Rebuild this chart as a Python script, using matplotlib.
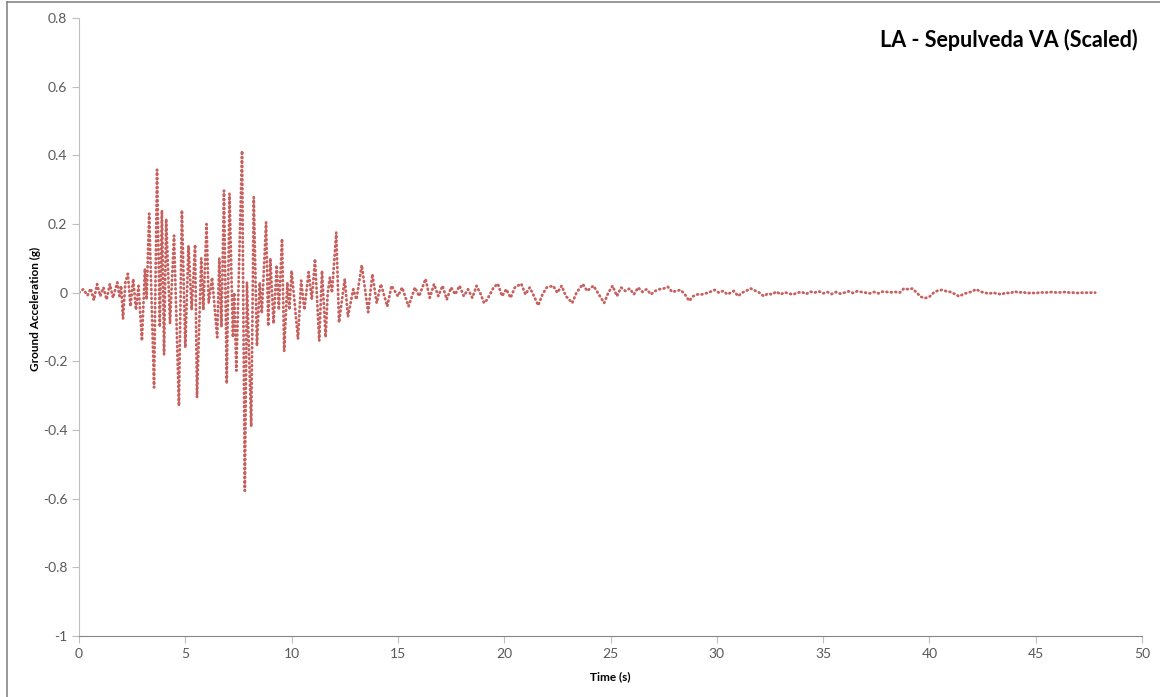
import matplotlib.pyplot as plt
from matplotlib.lines import Line2D

# turning points (time s, acceleration g)
t_strong = [0, 0.2, 0.4, 0.55, 0.7, 0.85, 1.0, 1.15, 1.3, 1.45, 1.6, 1.8, 1.9, 1.98,
            2.07, 2.18, 2.3, 2.42, 2.55, 2.68, 2.8, 2.96, 3.1, 3.18,
            3.3, 3.53, 3.67, 3.8, 3.9, 4.0, 4.1, 4.28, 4.47, 4.7, 4.84, 5.0, 5.15,
            5.3, 5.46, 5.55, 5.75, 5.85, 6.0, 6.1, 6.26, 6.5, 6.6, 6.7, 6.82, 6.95,
            7.08, 7.24, 7.3, 7.4, 7.67, 7.8, 7.9, 8.1, 8.22, 8.37, 8.5, 8.6, 8.8,
            8.9, 9.0, 9.15, 9.3, 9.4, 9.55, 9.65, 9.8, 9.9, 10.0, 10.3, 10.45, 10.6,
            10.8, 10.95, 11.1, 11.3, 11.43, 11.6, 11.7, 11.8, 11.9, 12.1, 12.23,
            12.5, 12.65, 12.9, 13.05, 13.3, 13.6, 13.8, 14.0, 14.2, 14.5, 14.7,
            15.0, 15.2, 15.5, 15.8]
a_strong = [0, 0.01, -0.008, 0.012, -0.022, 0.025, -0.01, 0.015, -0.02, 0.025, -0.015, 0.03, -0.01, 0.02,
            -0.076, 0.03, 0.055, -0.04, 0.04, -0.05, 0.02, -0.14, 0.07, -0.02,
            0.23, -0.276, 0.358, -0.1, 0.24, -0.18, 0.215, -0.09, 0.166, -0.33, 0.24, -0.16, 0.137,
            -0.05, 0.14, -0.305, 0.1, -0.05, 0.2, -0.03, 0.044, -0.13, 0.1, -0.1, 0.297, -0.265,
            0.288, -0.13, 0.0, -0.227, 0.413, -0.577, 0.03, -0.39, 0.278, -0.155, 0.03, -0.06, 0.205,
            -0.097, 0.1, -0.09, 0.08, -0.05, 0.157, -0.17, 0.03, -0.05, 0.064, -0.135, 0.035, -0.05,
            0.06, -0.02, 0.098, -0.14, 0.064, -0.13, 0.0, 0.044, 0.0, 0.175, -0.087,
            0.04, -0.07, 0.01, -0.02, 0.08, -0.057, 0.054, -0.03, 0.025, -0.04, 0.02,
            -0.01, 0.015, -0.04, 0.015]

t_tail = [16.0, 16.3, 16.5, 16.7, 16.9, 17.1, 17.3, 17.5, 17.7, 17.9, 18.1, 18.3, 18.5, 18.7,
          18.9, 19.05, 19.2, 19.5, 19.7, 19.9, 20.1, 20.3, 20.5, 20.8, 21.0, 21.2, 21.4, 21.6,
          21.8, 22.0, 22.3, 22.5, 22.7, 22.9, 23.2, 23.4, 23.7, 23.9, 24.2, 24.4, 24.7, 24.9,
          25.1, 25.3, 25.5, 25.7, 25.9, 26.1, 26.3, 26.5, 26.7, 26.9, 27.1, 27.3, 27.5, 27.7,
          27.9, 28.1, 28.3, 28.5, 28.7, 28.9, 29.1, 29.3, 29.6, 29.9, 30.1, 30.3, 30.5, 30.8,
          31.0, 31.2, 31.4, 31.6, 31.8, 32.0, 32.2, 32.4, 32.6, 32.8, 33.0, 33.2, 33.4, 33.6,
          33.8, 34.0, 34.2, 34.4, 34.6, 34.8, 35.0, 35.2, 35.4, 35.6, 35.8, 36.0, 36.2, 36.4,
          36.6, 36.8, 37.0, 37.2, 37.4, 37.6, 37.8, 38.0, 38.2, 38.4, 38.6, 38.8, 39.0, 39.2,
          39.4, 39.6, 39.8, 40.0, 40.2, 40.4, 40.6, 40.8, 41.0, 41.2, 41.4, 41.6, 41.8, 42.0,
          42.2, 42.4, 42.6, 42.8, 43.0, 43.2, 43.4, 43.6, 43.8, 44.0, 44.2, 44.4, 44.6, 44.8,
          45.0, 45.2, 45.4, 45.6, 45.8, 46.0, 46.2, 46.4, 46.6, 46.8, 47.0, 47.2, 47.4, 47.8]
a_tail = [-0.01, 0.04, -0.015, 0.025, -0.01, 0.02, -0.02, 0.015, -0.005, 0.02, -0.01, 0.01, -0.015, 0.02,
          -0.005, -0.03, -0.02, 0.015, 0.026, -0.01, 0.01, -0.015, 0.015, 0.026, -0.005, 0.015, -0.01, -0.037,
          -0.005, 0.015, 0.02, 0.0, 0.02, -0.01, -0.03, 0.0, 0.025, 0.005, 0.02, 0.0, -0.03, 0.0,
          0.02, -0.01, 0.015, 0.005, 0.012, -0.005, 0.015, 0.002, 0.01, -0.005, 0.005, 0.01, 0.012, 0.017,
          0.002, 0.005, 0.008, -0.005, -0.024, -0.01, -0.005, -0.005, 0.0, 0.008, 0.0, 0.005, -0.005, 0.005,
          -0.01, 0.0, 0.006, 0.012, 0.006, 0.0, -0.01, -0.003, -0.005, 0.003, -0.005, 0.001, -0.003, -0.005,
          0.0, 0.002, -0.004, 0.003, 0.0, 0.004, -0.002, 0.002, -0.004, 0.002, -0.003, 0.0, 0.004, -0.001,
          0.004, 0.002, 0.0, -0.002, 0.002, -0.002, 0.003, 0.002, 0.001, 0.002, 0.0, 0.012, 0.01, 0.012,
          0.0, -0.012, -0.016, -0.012, 0.0, 0.006, 0.008, 0.004, 0.002, -0.004, -0.011, -0.004, 0.0, 0.003,
          0.01, 0.003, 0.0, -0.003, 0.0, -0.003, -0.005, 0.0, -0.002, 0.004, 0.0, 0.002, -0.002, 0.0,
          -0.002, 0.001, 0.0, 0.001, 0.002, 0.0, 0.001, 0.002, 0.0, 0.0, -0.001, 0.0, 0.0, 0.0]

x_ticks = list(range(0, 51, 5))
y_ticks = [-1, -0.8, -0.6, -0.4, -0.2, 0, 0.2, 0.4, 0.6, 0.8]
y_labels = ['-1', '-0.8', '-0.6', '-0.4', '-0.2', '0', '0.2', '0.4', '0.6', '0.8']

plt.rcParams['font.family'] = ['Lato', 'DejaVu Sans']

fig = plt.figure(figsize=(11.6, 6.97), dpi=100)
ax = fig.add_axes([79/1160, 1 - 636/697, (1142 - 79)/1160, (636 - 18)/697])

ax.plot(t_strong + t_tail, a_strong + a_tail, color='#C0504D', linestyle=(0, (0.3, 1.3)),
        linewidth=2.0, dash_capstyle='round', alpha=0.9)

ax.set_xlim(0, 50)
ax.set_ylim(-1, 0.8)
ax.set_xticks(x_ticks)
ax.set_yticks(y_ticks)
ax.set_yticklabels(y_labels)
ax.tick_params(colors='#BFBFBF', labelcolor='#595959', labelsize=10, length=5, direction='out')

for s in ['top', 'right']:
    ax.spines[s].set_visible(False)
ax.spines['left'].set_color('#BFBFBF')
ax.spines['bottom'].set_color('#868686')

ax.set_xlabel('Time (s)', fontsize=8.5, fontweight='bold', labelpad=8)
ax.set_ylabel('Ground Acceleration (g)', fontsize=8.5, fontweight='bold')
ax.yaxis.set_label_coords(-0.036, 0.53)

fig.text(1138/1160, 1 - 40/697, 'LA - Sepulveda VA (Scaled)', ha='right', va='center',
         fontsize=15.5, fontweight='bold', color='black')

# chart area border
fig.add_artist(Line2D([7/1160, 1], [1 - 1.5/697, 1 - 1.5/697], color='#868686', lw=1.2))
fig.add_artist(Line2D([7/1160, 7/1160], [0, 1 - 1.5/697], color='#868686', lw=1.2))

fig.savefig('out.png', dpi=100)
